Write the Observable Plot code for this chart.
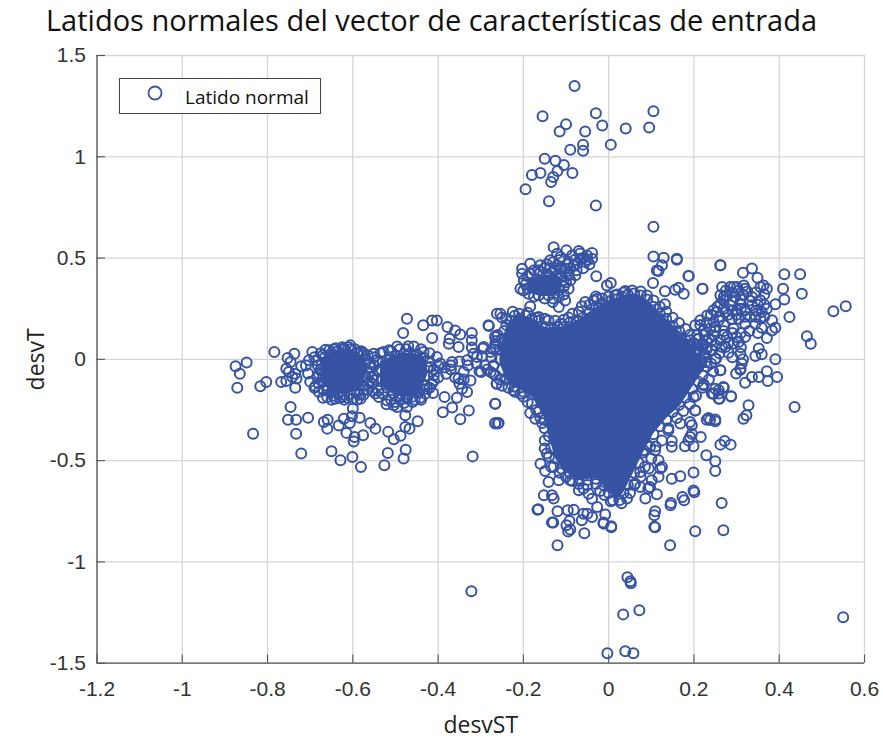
<!DOCTYPE html>
<html><head><meta charset="utf-8">
<script src="https://cdn.jsdelivr.net/npm/d3@7"></script>
<script src="https://cdn.jsdelivr.net/npm/@observablehq/plot@0.6"></script>
<style>
html,body{margin:0;background:#fff;width:883px;height:742px;overflow:hidden;position:relative}
#title{position:absolute;left:0;top:0;width:863px;text-align:center;font:29px "Open Sans",sans-serif;color:#111;line-height:40px;white-space:nowrap}
#chart{position:absolute;left:0;top:40px}
#legend{position:absolute;left:119px;top:78px;width:200px;height:34px;background:#fff;border:1.5px solid #444;font:19px "Open Sans",sans-serif;color:#111}
#legend svg{position:absolute;left:26px;top:6px}
#legend span{position:absolute;left:65px;top:6px;line-height:24px}
</style></head><body>
<div id="title">Latidos normales del vector de características de entrada</div>
<div id="chart"></div>
<div id="legend"><svg width="18" height="18"><circle cx="9" cy="8" r="6.5" fill="none" stroke="#3b55a5" stroke-width="1.8"/></svg><span>Latido normal</span></div>
<script>
const xTicks=[-1.2,-1,-0.8,-0.6,-0.4,-0.2,0,0.2,0.4,0.6];
const yTicks=[-1.5,-1,-0.5,0,0.5,1,1.5];

// Saturated regions where overlapping markers merge into solid colour:
// read as lower/upper bounds per x rather than as individual beats.
const mainCoreX=[-.255,-.238,-.21,-.176,-.15,-.14,-.125,-.105,-.066,-.027,0,.02,.035,.059,.082,.105,.137,.168,.199,.23];
const mainCoreLow=[-.02,-.11,-.145,-.195,-.29,-.38,-.49,-.555,-.595,-.59,-.655,-.695,-.66,-.56,-.46,-.37,-.29,-.23,-.13,-.03];
const mainCoreHigh=[.05,.17,.225,.195,.16,.155,.16,.16,.2,.26,.285,.3,.31,.325,.305,.26,.195,.135,.05,-.03];
const clusterAX=[-.675,-.65,-.61,-.58,-.57];
const clusterALow=[-.1,-.17,-.17,-.15,-.08];
const clusterAHigh=[0,.04,.05,.02,0];
const clusterBX=[-.535,-.5,-.46,-.44,-.425];
const clusterBLow=[-.13,-.18,-.19,-.16,-.08];
const clusterBHigh=[-.01,.02,.03,.02,-.01];
const clusterCX=[-.19,-.16,-.13,-.11];
const clusterCLow=[.33,.31,.31,.33];
const clusterCHigh=[.4,.41,.42,.4];

const topScatter=[[-.08,1.35],[-.03,1.215],[.105,1.225],[-.155,1.2],[-.1,1.16],[-.015,1.155],[-.115,1.125],[-.055,1.125],[.04,1.14],[.095,1.145],[-.06,1.06],[.005,1.06],[-.06,1.03],[-.09,1.035],[-.15,.99],[-.125,.98],[-.105,.96],[-.12,.93],[-.16,.92],[-.18,.91],[-.085,.92],[-.13,.9],[-.195,.84],[-.135,.875],[-.14,.78],[-.03,.76],[.105,.655]];
const upperCluster=[[-.129,.554],[-.099,.538],[-.07,.535],[-.067,.522],[-.039,.525],[-.039,.497],[-.055,.48],[-.074,.472],[-.094,.48],[-.113,.505],[-.137,.489],[-.121,.464],[-.102,.448],[-.082,.464],[-.203,.447],[-.184,.472],[-.16,.464],[-.137,.448],[-.203,.423],[-.078,.415],[-.094,.415],[-.113,.423],[-.029,.41],[-.094,.349],[-.117,.341],[-.207,.349],[-.199,.39],[-.102,.291],[-.131,.283],[-.117,.258],[-.184,.261],[-.188,.324],[-.164,.316],[-.141,.316],[-.117,.308],[-.184,.423],[-.16,.431],[-.141,.415],[-.125,.382],[-.106,.39],[-.09,.448],[-.067,.497],[-.051,.513],[-.086,.513],[-.121,.521],
[-.195,.37],[-.19,.41],[-.175,.44],[-.15,.45],[-.125,.44],[-.11,.45],[-.095,.47],[-.08,.49],[-.06,.5],[-.05,.49],[-.13,.48],[-.115,.49],[-.15,.39],[-.12,.4],[-.105,.36],[-.1,.38],[-.09,.39],[-.075,.44],[-.06,.45],[-.2,.34],[-.175,.31],[-.15,.3],[-.13,.3],[-.105,.32],[-.19,.35],[-.165,.44],[-.145,.47],[-.045,.47],[-.11,.41]];
const aroundCoreUpper=[[.105,.508],[.129,.502],[.16,.492],[.16,.497],[.125,.464],[.113,.439],[.117,.436],[.104,.377],[.187,.411],[.262,.464],[.132,.336],[.156,.344],[.164,.354],[.176,.324],[.22,.349],[.132,.272],[-.004,.365],[.005,.377],[.015,.316],[-.027,.299],[-.055,.283],[-.063,.262],[.039,.337],[-.094,.206],[-.113,.176],[-.141,.192],[-.164,.209],[-.254,.225],[-.25,.206],[-.281,.165],[-.266,.114],[-.266,.077],[-.295,.053],[-.297,.015],[-.277,.036],[-.299,-.062],[-.277,-.062],[-.263,-.12],[-.266,-.219],[-.266,-.314],[-.258,-.314],[-.184,-.265],[-.172,-.293],[-.156,-.314],[-.223,-.153],[-.207,-.17]];
const lowerFringe=[[-.145,-.465],[-.16,-.515],[-.149,-.551],[-.141,-.605],[-.117,-.597],[-.129,-.531],[-.152,-.671],[-.133,-.671],[-.129,-.687],[-.167,-.742],[-.12,-.75],[-.133,-.806],[-.096,-.745],[-.082,-.742],[-.099,-.819],[-.092,-.798],[-.063,-.794],[-.059,-.762],[-.05,-.762],[-.039,-.778],[-.012,-.811],[.006,-.824],[-.008,-.766],[-.07,-.646],[-.047,-.663],[-.039,-.688],[-.027,-.729],[-.09,-.597],[-.059,-.638],[.043,-.687],[.086,-.687],[.113,-.666],[.097,-.63],[.093,-.638],[.101,-.597],[.074,-.63],[.062,-.613],[.117,-.58],[.121,-.539],[.125,-.531],[.094,-.539],[.074,-.556],[.117,-.498],[.109,-.449],[.082,-.449],[.097,-.432],[.148,-.589],[.168,-.577],[.199,-.559],[.199,-.647],[.173,-.679],[.146,-.709],[.265,-.709],[.107,-.77],[.107,-.827],[.269,-.844],[.25,-.551],[.25,-.503],[.229,-.474],[.262,-.421],[.272,-.403],[.286,-.421],[.216,-.383],[.191,-.383],[.187,-.4],[.195,-.367],[.179,-.429],[.199,-.429],[.148,-.403],[.148,-.432],[.168,-.317],[.191,-.309],[.195,-.325],[.203,-.252],[.23,-.298],[.238,-.3],[.25,-.306],[.14,-.35],[.246,-.17],[.258,-.153],[.269,-.137],[.258,-.194],[.287,-.183],[.262,-.054],[.25,.003],[.242,.044],[.222,-.128],[.199,-.186],[-.12,-.918],[.144,-.918],[.109,-.75],[.109,-.829],[.203,-.849],[-.057,-.859],[.006,-.829],[-.012,-.805],[-.09,-.84],[-.095,-.85],[-.13,-.805],[-.165,-.74],[.177,-.696],[.201,-.656],[.145,-.72]];
const rightCluster=[[.262,.464],[.188,.411],[.22,.349],[.315,.428],[.336,.448],[.349,.403],[.412,.42],[.449,.42],[.453,.324],[.409,.349],[.412,.295],[.391,.272],[.424,.209],[.527,.237],[.556,.262],[.465,.114],[.474,.077],[.391,0],[.395,-.087],[.371,-.059],[.373,-.107],[.352,-.087],[.336,-.087],[.32,-.115],[.436,-.235],[.328,-.227],[.323,-.276],[.316,-.293],[.299,-.07],[.309,-.051],[.262,-.054],[.266,.357],[.285,.357],[.293,.357],[.317,.365],[.32,.349],[.363,.365],[.371,.349],[.356,.357],[.262,.316],[.277,.316],[.297,.308],[.316,.316],[.336,.308],[.356,.291],[.371,.25],[.262,.275],[.285,.267],[.309,.275],[.336,.267],[.274,.234],[.254,.234],[.305,.201],[.332,.209],[.356,.201],[.383,.193],[.391,.156],[.383,.143],[.359,.156],[.371,.105],[.32,.11],[.293,.151],[.27,.168],[.246,.184],[.231,.217],[.215,.193],[.203,.168],[.223,.143],[.207,.119],[.246,.119],[.277,.11],[.305,.086],[.352,.053],[.344,.017],[.359,.025],[.309,.028],[.281,.033],[.252,.003],[.242,.045],[.266,.061],[.219,.077],[.191,.094],[.312,-.021],[.309,-.046],[.227,-.013],[.223,-.123],[.25,-.145],[.27,-.14],[.258,-.169],[.287,-.182],[.242,-.169],[.26,-.194],[.203,-.252],[.234,-.289],[.25,-.297],[.258,.193],[.289,.201],[.238,.151],[.262,.094],[.293,.078],[.223,.028],[.242,.094],[.274,.061],[.32,.176],[.344,.176],[.359,.234],[.301,.242],[.32,.242],[.246,.242],[.27,.308],[.301,.357],
[.275,.34],[.29,.33],[.305,.34],[.325,.335],[.345,.33],[.365,.32],[.27,.29],[.29,.29],[.31,.295],[.33,.29],[.35,.27],[.365,.27],[.255,.26],[.27,.25],[.29,.24],[.31,.25],[.345,.24],[.365,.21],[.24,.22],[.26,.21],[.28,.22],[.3,.22],[.32,.21],[.345,.21],[.215,.17],[.23,.18],[.25,.16],[.27,.14],[.29,.13],[.31,.13],[.33,.14],[.35,.13],[.225,.12],[.25,.14],[.27,.12],[.3,.11],[.21,.1],[.23,.09],[.25,.07],[.28,.08],[.31,.06],[.205,.07],[.23,.06],[.26,.03],[.29,.01],[.315,0],[.215,.04]];
const leftScatter=[[-.875,-.034],[-.849,-.016],[-.865,-.071],[-.871,-.14],[-.817,-.133],[-.803,-.112],[-.784,.036],[-.834,-.367],[-.768,-.112],[-.756,-.107],[-.735,-.14],[-.732,-.095],[-.735,-.071],[-.756,-.046],[-.753,.007],[-.737,.028],[-.746,-.013],[-.721,-.034],[-.75,-.062],[-.742,-.087],[-.746,-.235],[-.752,-.298],[-.733,-.298],[-.705,-.288],[-.733,-.367],[-.721,-.465],[-.668,-.309],[-.659,-.298],[-.66,-.342],[-.633,-.326],[-.621,-.293],[-.607,-.314],[-.6,-.243],[-.602,-.281],[-.584,-.288],[-.559,-.314],[-.547,-.342],[-.576,-.375],[-.596,-.383],[-.598,-.405],[-.615,-.363],[-.65,-.454],[-.629,-.498],[-.601,-.482],[-.581,-.531],[-.526,-.523],[-.518,-.462],[-.481,-.49],[-.476,-.446],[-.517,-.358],[-.504,-.395],[-.488,-.377],[-.477,-.334],[-.467,-.342],[-.448,-.306],[-.477,-.276],[-.473,-.235],[-.496,-.235],[-.521,-.222],[-.319,-.479],[-.348,-.296],[-.328,-.252],[-.367,-.238],[-.389,-.261],[-.385,-.186],[-.356,-.189],[-.332,-.161],[-.412,-.166],[-.381,-.071],[-.41,-.079],[-.395,-.021],[-.367,-.013],[-.34,-.062],[-.352,-.095],[-.324,-.104],[-.344,-.145],[-.303,-.059],[-.27,-.071],[-.262,-.12],[-.266,-.219],[-.266,-.317],[-.26,-.317],[-.473,.201],[-.435,.168],[-.414,.192],[-.403,.192],[-.378,.16],[-.36,.143],[-.414,.105],[-.482,.13],[-.348,.123],[-.373,.102],[-.375,.077],[-.352,.061],[-.321,.13],[-.321,.094],[-.321,.058],[-.293,.061],[-.282,.168],[-.332,-.005],[-.309,.012],[-.317,.028],[-.262,.225],[-.266,.11],[-.266,.061],
[-.71,-.03],[-.705,-.07],[-.7,-.11],[-.69,-.14],[-.68,-.16],[-.67,-.19],[-.65,-.2],[-.62,-.2],[-.59,-.2],[-.575,-.175],[-.565,-.15],[-.555,-.155],[-.54,-.155],[-.53,-.17],[-.51,-.2],[-.5,-.21],[-.48,-.215],[-.46,-.21],[-.44,-.2],[-.43,-.17],[-.42,-.14],[-.415,-.12],[-.4,-.09],[-.41,-.05],[-.4,-.03],[-.42,-.01],[-.42,.03],[-.44,.05],[-.47,.065],[-.49,.05],[-.51,.04],[-.535,.03],[-.55,.01],[-.565,.02],[-.58,.04],[-.385,-.04],[-.37,-.05],[-.36,-.09],[-.35,-.12],[-.34,-.1],[-.37,-.03],[-.35,-.01],[-.33,-.03],[-.31,-.02],[-.29,-.03],[-.285,-.05]];
const leftClusterEdge=[[-.695,.036],[-.703,-.005],[-.685,-.005],[-.664,.048],[-.688,-.133],[-.606,.069],[-.621,.053],[-.59,.028],[-.676,-.054],[-.684,-.087],[-.668,-.153],[-.66,-.186],[-.641,-.194],[-.613,-.189],[-.582,-.194],[-.574,-.153],[-.551,.028],[-.528,.036],[-.496,.064],[-.457,.064],[-.434,.036],[-.403,.012],[-.418,-.038],[-.41,-.104],[-.426,-.145],[-.442,-.189],[-.473,-.194],[-.504,-.227],[-.52,-.202],[-.539,-.186],[-.547,-.169],[-.559,-.038],[-.567,-.005],[-.57,-.087],[-.543,-.005],[-.56,-.06],[-.555,-.09],[-.55,-.03],[-.545,-.1],[-.54,-.06],[-.555,-.12],[-.56,-.02],[-.67,.02],[-.645,.05],[-.575,.03],[-.515,.045],[-.475,.05],[-.68,-.12],[-.63,-.19],[-.6,-.195],[-.49,-.2],[-.455,-.2],
[-.675,-.05],[-.67,-.09],[-.66,-.13],[-.65,-.16],[-.635,-.17],[-.62,-.175],[-.605,-.17],[-.59,-.16],[-.575,-.13],[-.57,-.09],[-.672,-.02],[-.665,.01],[-.65,.03],[-.635,.04],[-.62,.05],[-.605,.05],[-.59,.035],[-.578,.02],[-.533,-.05],[-.53,-.1],[-.52,-.14],[-.505,-.17],[-.49,-.18],[-.475,-.185],[-.46,-.185],[-.445,-.165],[-.432,-.13],[-.425,-.08],[-.425,-.04],[-.435,.01],[-.45,.025],[-.465,.03],[-.48,.025],[-.5,.02],[-.515,.01],[-.53,-.01],[-.682,-.03],[-.68,-.07],[-.672,-.11],[-.66,-.155],[-.645,-.18],[-.625,-.185],[-.585,-.175],[-.565,-.12],[-.563,-.07],[-.56,-.11],[-.69,.01],[-.675,.03],[-.655,.045],[-.64,.055],[-.625,.06],[-.61,.06],[-.595,.05],[-.582,.035]];
const coreRing=[[-.25,.1],[-.245,.14],[-.24,.17],[-.23,.19],[-.22,.215],[-.21,.225],[-.195,.215],[-.18,.2],[-.165,.19],[-.15,.16],[-.135,.155],[-.12,.16],[-.105,.16],[-.09,.185],[-.075,.19],[-.06,.205],[-.045,.23],[-.03,.26],[-.015,.27],[0,.285],[.015,.295],[.03,.31],[.045,.32],[.06,.325],[.075,.315],[.09,.295],[.105,.26],[.12,.225],[.135,.2],[.15,.165],[.165,.14],[.18,.095],[.19,.065],[.2,.04],[.215,0],[.23,-.035],[.22,-.08],[.21,-.11],[.195,-.145],[.18,-.19],[.165,-.225],[.15,-.26],[.135,-.3],[.12,-.33],[.105,-.37],[.09,-.42],[.08,-.46],[.07,-.51],[.06,-.56],[.045,-.62],[.035,-.66],[.025,-.695],[.01,-.695],[0,-.66],[-.012,-.62],[-.03,-.59],[-.05,-.595],[-.07,-.59],[-.09,-.565],[-.11,-.54],[-.125,-.49],[-.135,-.44],[-.14,-.38],[-.15,-.3],[-.165,-.26],[-.18,-.22],[-.2,-.16],[-.22,-.135],[-.24,-.1],[-.25,-.05],[-.255,0],[-.255,.05],
[-.03,.31],[-.045,.27],[-.07,.235],[-.085,.225],[-.105,.195],[-.125,.19],[-.15,.2],[-.17,.205],[-.19,.23],[-.225,.235],[-.24,.2],[-.26,.12],[-.265,.09],[-.27,.05],[-.275,.01],[-.27,-.03],[-.265,-.08],[-.255,-.1],[-.25,-.13],[-.235,-.14],[-.22,-.16],[-.2,-.185],[-.19,-.21],[-.17,-.25],[-.16,-.29],[-.15,-.34],[-.15,-.4],[-.15,-.44],[-.14,-.48],[-.135,-.53],[-.115,-.56],[-.1,-.58],[-.085,-.6],[-.07,-.615],[-.05,-.62],[-.03,-.615],[-.02,-.65],[-.01,-.67],[.005,-.7],[.03,-.71],[.05,-.66],[.06,-.62],[.075,-.58],[.085,-.53],[.1,-.49],[.11,-.43],[.125,-.4],[.14,-.34],[.16,-.29],[.175,-.255],[.19,-.22],[.205,-.18],[.22,-.14],[.235,-.1],[.245,-.06],[.24,-.02],[.225,.02],[.21,.05],[.2,.08],[.19,.12],[.18,.15],[.165,.18],[.15,.205],[.135,.235],[.12,.26],[.105,.29],[.09,.315],[.075,.335],[.055,.34],[.035,.33],[.02,.32],[0,.31],[-.015,.3],[-.035,.29],[.18,.03],[.2,0],[.21,-.04],[.17,.1],[.185,.07],[.21,.1],[.22,.07],[.23,.05],[.235,.1]];
const outliers=[[-.322,-1.145],[.044,-1.076],[.051,-1.096],[.052,-1.105],[.034,-1.259],[.072,-1.239],[-.003,-1.451],[.039,-1.441],[.058,-1.451],[.55,-1.273]];

const blue="#3753a4";
const toPoints=a=>a.map(([x,y])=>({x,y}));
const points=toPoints([...topScatter,...upperCluster,...aroundCoreUpper,...lowerFringe,...rightCluster,...leftScatter,...leftClusterEdge,...coreRing,...outliers]);
const band=(xs,lo,hi)=>xs.map((x,i)=>({x,y1:lo[i],y2:hi[i]}));
const coreArea=(xs,lo,hi)=>Plot.areaY(band(xs,lo,hi),{x:"x",y1:"y1",y2:"y2",fill:blue});
const tickFont="'Liberation Sans',Arial,sans-serif";
const labelFont="'Open Sans',sans-serif";
const chart=Plot.plot({
  width:883,height:702,marginLeft:96.5,marginRight:19,marginTop:15,marginBottom:79.3,
  style:{background:"transparent",fontFamily:tickFont,fontSize:"21px",color:"#333"},
  x:{domain:[-1.2,.6],label:null},y:{domain:[-1.5,1.5],label:null},
  marks:[
    Plot.ruleX(xTicks,{stroke:"#d6d6d6",strokeWidth:1.3}),
    Plot.ruleY(yTicks,{stroke:"#d6d6d6",strokeWidth:1.3}),
    Plot.ruleX([-1.2],{stroke:"#555",strokeWidth:1.3}),
    Plot.ruleY([-1.5],{stroke:"#555",strokeWidth:1.3}),
    Plot.ruleX(xTicks,{x:d=>d,y1:-1.5,y2:-1.46,stroke:"#555",strokeWidth:1.1}),
    Plot.ruleY(yTicks,{y:d=>d,x1:-1.2,x2:-1.18,stroke:"#555",strokeWidth:1.1}),
    coreArea(mainCoreX,mainCoreLow,mainCoreHigh),
    coreArea(clusterAX,clusterALow,clusterAHigh),
    coreArea(clusterBX,clusterBLow,clusterBHigh),
    coreArea(clusterCX,clusterCLow,clusterCHigh),
    Plot.dot(points,{x:"x",y:"y",r:5,stroke:blue,strokeWidth:2,fill:"none"}),
    Plot.axisX(xTicks,{anchor:"bottom",tickSize:0,tickPadding:18,tickFormat:d=>String(d),label:null,fontFamily:tickFont,fontSize:21}),
    Plot.axisY(yTicks,{anchor:"left",tickSize:0,tickPadding:11,tickFormat:d=>String(d),label:null,fontFamily:tickFont,fontSize:21}),
    Plot.text(["desvST"],{x:-.3,y:-1.5,dy:62,text:d=>d,fontSize:23,fontFamily:labelFont,fill:"#222"}),
    Plot.text(["desvT"],{x:-1.2,y:0,dx:-60,rotate:-90,text:d=>d,fontSize:23,fontFamily:labelFont,fill:"#222"})
  ]
});
document.getElementById("chart").appendChild(chart);
</script></body></html>
